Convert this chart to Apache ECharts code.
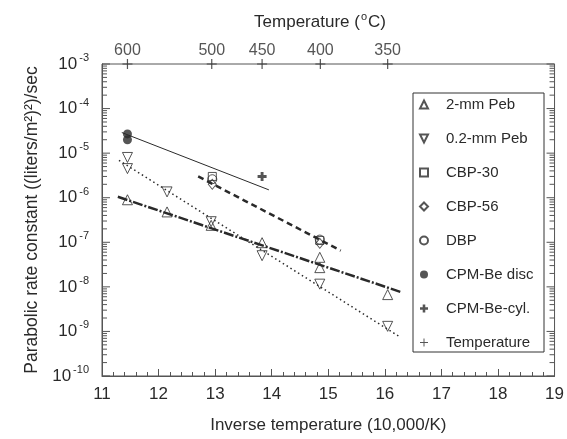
<!DOCTYPE html>
<html>
<head>
<meta charset="utf-8">
<script src="https://cdn.jsdelivr.net/npm/echarts@6/dist/echarts.min.js"></script>
<style>
  html, body { margin: 0; padding: 0; background: #fff; }
  #chart { width: 567px; height: 439px; }
</style>
</head>
<body>
<div id="chart"></div>
<script>
// Данные
const peb2X = [11.45, 12.15, 12.93, 13.83, 14.85, 14.85, 16.05]
const peb2Y = [9e-7, 4.8e-7, 2.4e-7, 9.8e-8, 4.6e-8, 2.7e-8, 6.7e-9]
const peb02X = [11.45, 11.45, 12.15, 12.93, 13.83, 14.85, 16.05]
const peb02Y = [8e-6, 4.5e-6, 1.35e-6, 2.9e-7, 5.0e-8, 1.15e-8, 1.3e-9]
const cbp30X = [12.95, 14.85]
const cbp30Y = [3.0e-6, 1.1e-7]
const cbp56X = [12.95, 14.85]
const cbp56Y = [2.0e-6, 9.5e-8]
const dbpX = [12.95, 14.85]
const dbpY = [2.6e-6, 1.15e-7]
const discX = [11.45, 11.45]
const discY = [2.7e-5, 2.0e-5]
const cylX = [13.83]
const cylY = [3.0e-6]

// линии аппроксимации (концы)
const fitDiscX = [11.35, 13.95]
const fitDiscY = [2.9e-5, 1.5e-6]
const fitCbpX = [12.70, 15.22]
const fitCbpY = [3.0e-6, 6.5e-8]
const fitPeb2X = [11.28, 16.29]
const fitPeb2Y = [1.05e-6, 7.6e-9]
const fitPeb02X = [11.30, 16.24]
const fitPeb02Y = [6.9e-6, 7.9e-10]

// верхняя шкала температур
const tempX = [11.45, 12.94, 13.83, 14.86, 16.05]
const tempLabels = ['600', '500', '450', '400', '350']

const legendNames = ['2-mm Peb', '0.2-mm Peb', 'CBP-30', 'CBP-56', 'DBP', 'CPM-Be disc', 'CPM-Be-cyl.', 'Temperature']

const xMin = 11
const xMax = 19
const yMin = 1e-10
const yMax = 1e-3

const ink = '#2a2a2a'
const axisColor = '#555'
const font = '"Liberation Sans", Arial, sans-serif'

const pairs = (xs, ys) => xs.map((x, i) => [x, ys[i]])

// деления логарифмической шкалы (большие и малые)
const logTicks = []
for (let e = -10; e <= -3; e++) {
  logTicks.push([xMin, Math.pow(10, e), 8])
  if (e < -3) {
    for (let m = 2; m <= 9; m++) logTicks.push([xMin, m * Math.pow(10, e), 5])
  }
}

const thinPlus = 'path://M4.4,0H5.6V4.4H10V5.6H5.6V10H4.4V5.6H0V4.4H4.4Z'
const boldPlus = 'path://M3.4,0H6.6V3.4H10V6.6H6.6V10H3.4V6.6H0V3.4H3.4Z'
const downTri = 'path://M0,0L10,0L5,10Z'

const hollow = { color: 'rgba(0,0,0,0)', borderColor: ink, borderWidth: 1 }

const scatter = (name, data, symbol, size, style, extra) => Object.assign({
  name,
  type: 'scatter',
  data,
  symbol,
  symbolSize: size,
  symbolKeepAspect: true,
  itemStyle: style,
  emphasis: { disabled: true },
  z: 5,
}, extra || {})

const fitLine = (data, width, type) => ({
  type: 'line',
  data,
  showSymbol: false,
  symbol: 'none',
  lineStyle: { color: ink, width, type },
  emphasis: { disabled: true },
  z: 3,
})

const chart = echarts.init(document.getElementById('chart'))

const options = {
  animation: false,
  textStyle: { fontFamily: font },
  grid: {
    left: 102,
    right: 10,
    top: 64,
    bottom: 61,
    show: true,
    borderColor: axisColor,
    borderWidth: 1,
  },
  legend: {
    data: legendNames,
    orient: 'vertical',
    left: 419,
    top: 97,
    padding: 0,
    itemWidth: 8,
    itemHeight: 8,
    itemGap: 19,
    selectedMode: false,
    formatter: (name) => '{t|' + name + '}',
    textStyle: {
      rich: { t: { fontSize: 15, color: ink, fontFamily: font, lineHeight: 14, padding: [0, 0, 0, 13] } },
    },
  },
  xAxis: {
    type: 'value',
    min: xMin,
    max: xMax,
    interval: 1,
    name: 'Inverse temperature (10,000/K)',
    nameLocation: 'middle',
    nameGap: 41,
    nameTextStyle: { fontSize: 17, color: ink },
    axisLine: { lineStyle: { color: axisColor, width: 1 } },
    axisTick: { inside: true, length: 7, lineStyle: { color: axisColor } },
    minorTick: { show: true, splitNumber: 5, length: 4, lineStyle: { color: axisColor } },
    splitLine: { show: false },
    axisLabel: { fontSize: 17, color: ink, margin: 10 },
  },
  yAxis: {
    type: 'log',
    logBase: 10,
    min: yMin,
    max: yMax,
    name: 'Parabolic rate constant ((liters/m²)²)/sec',
    nameLocation: 'middle',
    nameRotate: 90,
    nameGap: 56,
    nameTextStyle: { fontSize: 17.5, color: ink },
    axisLine: { lineStyle: { color: axisColor, width: 1 } },
    axisTick: { show: false },
    splitLine: { show: false },
    axisLabel: {
      margin: 13,
      formatter: (v) => '{b|10}{s|' + Math.round(Math.log10(v)) + '}',
      rich: {
        b: { fontSize: 17, color: ink, fontFamily: font },
        s: { fontSize: 11, color: ink, fontFamily: font, padding: [0, 0, 12, 2] },
      },
    },
  },
  graphic: [
    {
      type: 'rect',
      shape: { x: 413, y: 93, width: 131, height: 259 },
      style: { fill: '#fff', stroke: '#333', lineWidth: 1 },
      z: 1,
    },
    {
      type: 'text',
      x: 320,
      y: 22,
      style: {
        text: '{b|Temperature (}{s|o}{b|C)}',
        align: 'center',
        verticalAlign: 'middle',
        rich: {
          b: { fontSize: 17, fill: ink, fontFamily: font },
          s: { fontSize: 11, fill: ink, fontFamily: font, padding: [0, 1, 10, 1] },
        },
      },
    },
  ],
  series: [
    // деления лог-шкалы слева и справа
    {
      type: 'custom',
      data: logTicks,
      silent: true,
      z: 2,
      renderItem: (params, api) => {
        const v = api.value(1)
        const len = api.value(2)
        const pL = api.coord([xMin, v])
        const pR = api.coord([xMax, v])
        const st = { stroke: axisColor, lineWidth: 1 }
        return {
          type: 'group',
          children: [
            { type: 'line', shape: { x1: pL[0], y1: pL[1], x2: pL[0] + len, y2: pL[1] }, style: st },
            { type: 'line', shape: { x1: pR[0] - len, y1: pR[1], x2: pR[0], y2: pR[1] }, style: st },
          ],
        }
      },
    },
    fitLine(pairs(fitDiscX, fitDiscY), 1, 'solid'),
    fitLine(pairs(fitCbpX, fitCbpY), 2.5, [6, 4]),
    fitLine(pairs(fitPeb2X, fitPeb2Y), 2.5, [10, 2, 2, 2]),
    fitLine(pairs(fitPeb02X, fitPeb02Y), 1.5, [1.5, 3]),
    scatter('2-mm Peb', pairs(peb2X, peb2Y), 'triangle', 10, hollow),
    scatter('0.2-mm Peb', pairs(peb02X, peb02Y), downTri, 10, hollow),
    scatter('CBP-30', pairs(cbp30X, cbp30Y), 'rect', 8, hollow),
    scatter('CBP-56', pairs(cbp56X, cbp56Y), 'diamond', [8, 10], hollow),
    scatter('DBP', pairs(dbpX, dbpY), 'circle', 9, hollow),
    scatter('CPM-Be disc', pairs(discX, discY), 'circle', 9, { color: ink }),
    scatter('CPM-Be-cyl.', pairs(cylX, cylY), boldPlus, 9, { color: ink }),
    scatter('Temperature', tempX.map((x) => [x, yMax]), thinPlus, 10, { color: ink }, {
      clip: false,
      label: {
        show: true,
        position: 'top',
        distance: 0,
        fontSize: 16,
        color: ink,
        formatter: (p) => tempLabels[p.dataIndex],
      },
    }),
  ],
}

chart.setOption(options)
</script>
</body>
</html>
